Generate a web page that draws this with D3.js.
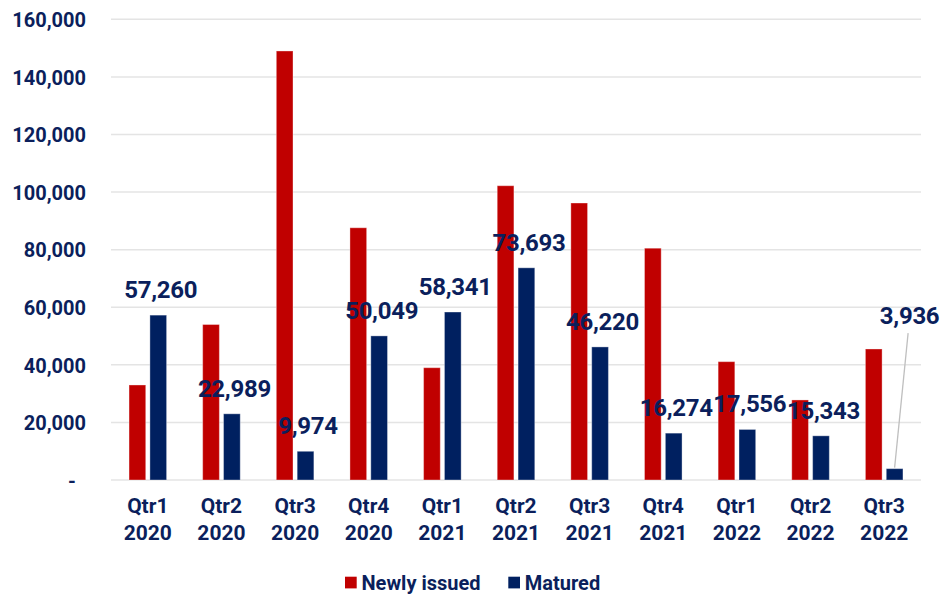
<!DOCTYPE html>
<html><head><meta charset="utf-8">
<script src="https://cdn.jsdelivr.net/npm/d3@7"></script>
<style>
html,body{margin:0;padding:0;background:#fff;}
svg{display:block;font-family:Roboto,"Liberation Sans",Arial,sans-serif;font-weight:700;}
</style></head>
<body>
<svg id="chart" width="941" height="594"></svg>
<script>
const quarters = ["Qtr1","Qtr2","Qtr3","Qtr4","Qtr1","Qtr2","Qtr3","Qtr4","Qtr1","Qtr2","Qtr3"];
const years = ["2020","2020","2020","2020","2021","2021","2021","2021","2022","2022","2022"];
const newlyIssued = [33000, 54000, 149000, 87600, 39000, 102200, 96200, 80500, 41100, 27800, 45500];
const matured = [57260, 22989, 9974, 50049, 58341, 73693, 46220, 16274, 17556, 15343, 3936];
const seriesNames = ["Newly issued", "Matured"];
const seriesColors = ["#C00000", "#002060"];
const yTicks = [0, 20000, 40000, 60000, 80000, 100000, 120000, 140000, 160000];

(function () {
const textColor = "#0b1f5c";
const svg = d3.select("#chart");
const mLeft = 111, mRight = 921, mTop = 19.3, mBottom = 480;

const cats = quarters.map((q, i) => q + " " + years[i]);
const x0 = d3.scaleBand().domain(cats).range([mLeft, mRight]).paddingInner(0.49).paddingOuter(0.245);
const x1 = d3.scaleBand().domain(seriesNames).range([0, x0.bandwidth()]).paddingInner(0.2);
const y = d3.scaleLinear().domain([0, 160000]).range([mBottom, mTop]);

// gridlines
svg.append("g").selectAll("line").data(yTicks).join("line")
  .attr("x1", mLeft).attr("x2", mRight)
  .attr("y1", d => y(d)).attr("y2", d => y(d))
  .attr("stroke", "#e4e4e4").attr("stroke-width", 1.5);

// y axis labels
const fmt = d3.format(",");
const yAxis = d3.axisLeft(y).tickValues(yTicks).tickSize(0).tickPadding(0)
  .tickFormat(d => d === 0 ? "-" : fmt(d));
const yg = svg.append("g").attr("transform", `translate(86,0)`).call(yAxis);
yg.select(".domain").remove();
yg.selectAll("text").attr("fill", textColor).attr("font-size", 20).attr("font-weight", 700)
  .attr("font-family", "Roboto, sans-serif")
  .attr("dy", "0.36em")
  .attr("dx", (d) => d === 0 ? -10 : 0);

// bars
const series = [newlyIssued, matured];
series.forEach((vals, si) => {
  svg.append("g").selectAll("rect").data(vals).join("rect")
    .attr("x", (d, i) => x0(cats[i]) + x1(seriesNames[si]))
    .attr("width", x1.bandwidth())
    .attr("y", d => y(d))
    .attr("height", d => y(0) - y(d))
    .attr("fill", seriesColors[si])
    .attr("stroke", "rgba(255,255,255,0.35)").attr("stroke-width", 1);
});

// data labels for matured
const lastIdx = matured.length - 1;
svg.append("g").selectAll("text").data(matured).join("text")
  .attr("x", (d, i) => {
    const cx = x0(cats[i]) + x1("Matured") + x1.bandwidth() / 2 + 2.5;
    return i === lastIdx ? cx + 12.5 : cx;
  })
  .attr("y", (d, i) => i === lastIdx ? y(d) - 145 : y(d) - 17)
  .attr("text-anchor", "middle")
  .attr("fill", textColor).attr("font-size", 24).attr("font-weight", 700)
  .attr("letter-spacing", -0.3)
  .text(d => fmt(d));

// leader line for last label
{
  const i = lastIdx;
  const cx = x0(cats[i]) + x1("Matured") + x1.bandwidth() / 2;
  svg.append("line")
    .attr("x1", cx + 13.5).attr("y1", y(matured[i]) - 135.5)
    .attr("x2", cx).attr("y2", y(matured[i]) - 1)
    .attr("stroke", "#bfbfbf").attr("stroke-width", 1.3);
}

// x labels
const xg = svg.append("g");
cats.forEach((c, i) => {
  const cx = x0(c) + x0.bandwidth() / 2;
  const t = xg.append("text").attr("text-anchor", "middle")
    .attr("fill", textColor).attr("font-size", 21).attr("font-weight", 700);
  t.append("tspan").attr("x", cx).attr("y", 513).text(quarters[i]);
  t.append("tspan").attr("x", cx).attr("y", 540).text(years[i]);
});

// legend
const legend = svg.append("g");
const legendX = [345, 508.3];
seriesNames.forEach((n, si) => {
  legend.append("rect").attr("x", legendX[si]).attr("y", 576.7).attr("width", 11.7).attr("height", 11.7)
    .attr("fill", seriesColors[si]);
  legend.append("text").attr("x", legendX[si] + 16.5).attr("y", 589.5)
    .attr("fill", textColor).attr("font-size", 20).attr("font-weight", 700)
    .text(n);
});
})();
</script>
</body></html>
